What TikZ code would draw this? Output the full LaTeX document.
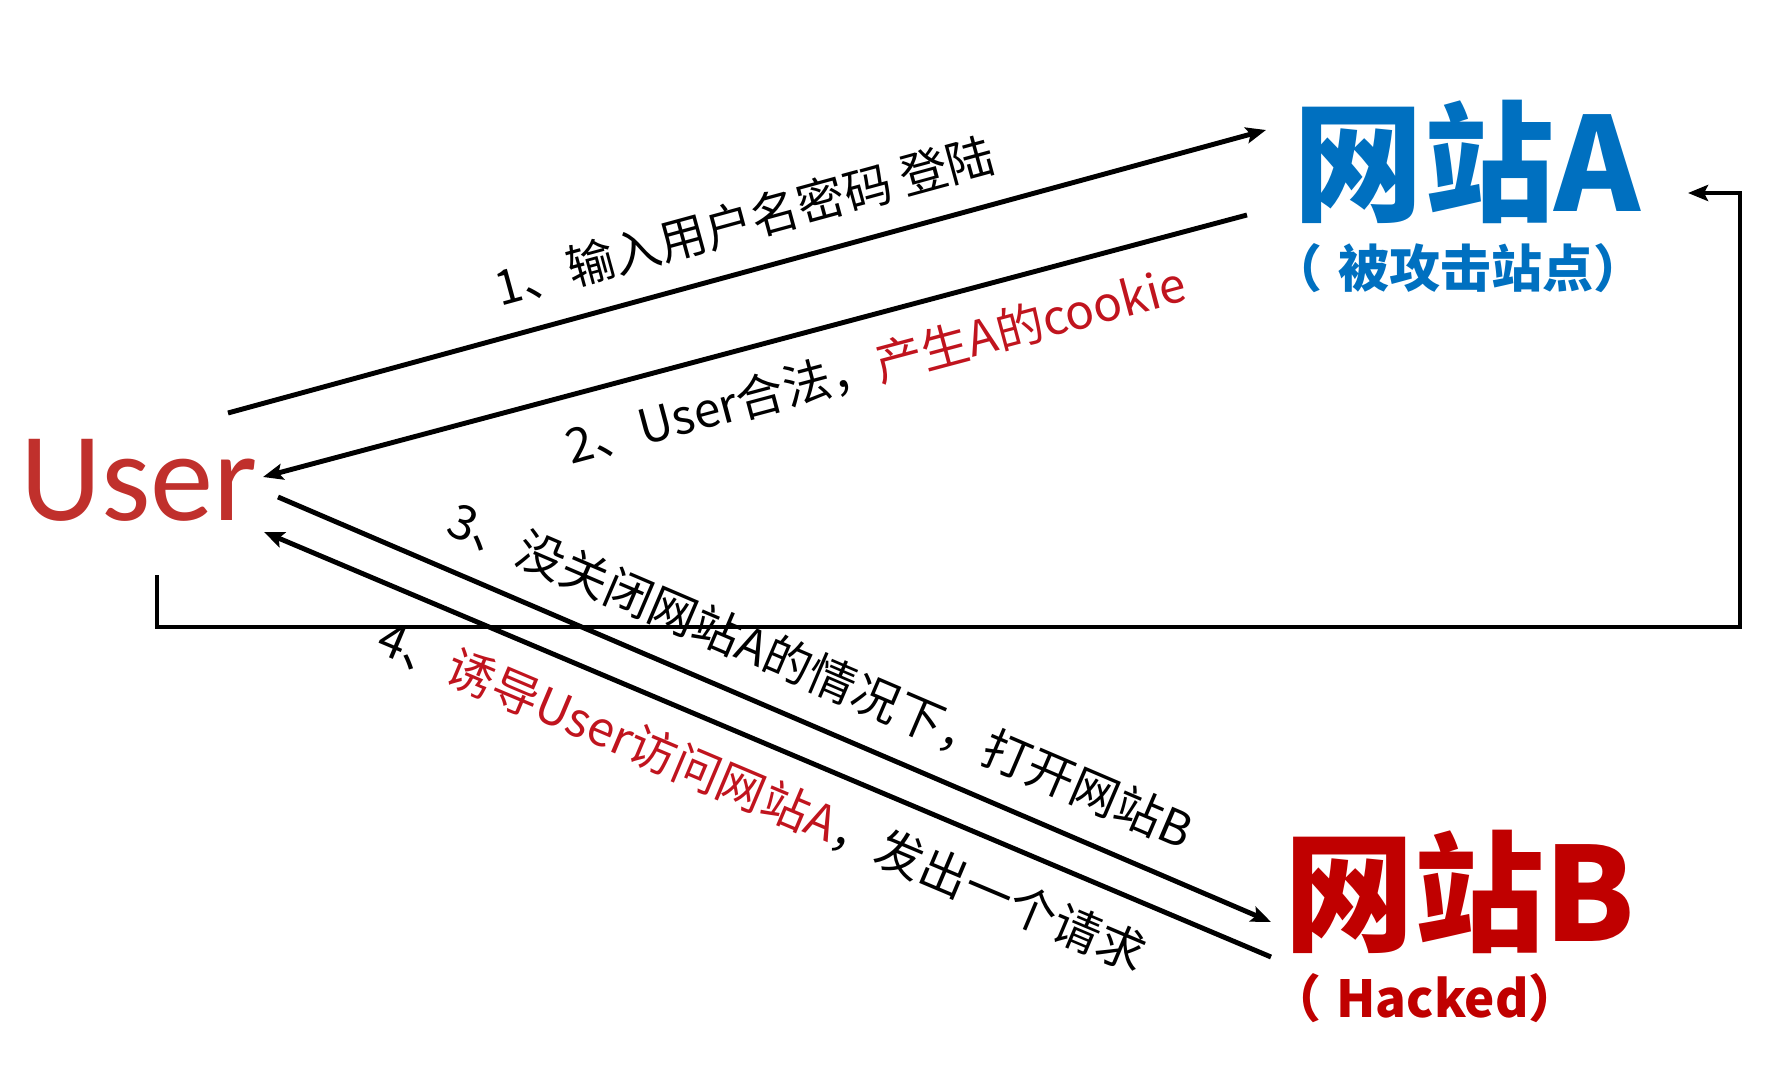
\documentclass[tikz,border=0pt]{standalone}
\usepackage{fontspec}
\usepackage{xcolor}
\setmainfont{Noto Sans CJK SC}
\newfontfamily\userfont{Carlito}
\usetikzlibrary{arrows.meta}
\definecolor{siteblue}{RGB}{0,112,192}
\definecolor{sitered}{RGB}{192,0,0}
\definecolor{userred}{RGB}{192,48,44}
\definecolor{textred}{RGB}{192,20,30}

\begin{document}
\begin{tikzpicture}[x=0.01cm,y=-0.01cm,line width=1.4pt,
		arr/.style={-{Stealth[length=0.2cm,width=0.16cm,inset=0.04cm]}},
		lab/.style={sloped,inner sep=0pt,font=\fontsize{13.6}{15}\selectfont},
		big/.style={inner sep=0pt,font=\fontsize{37}{40}\selectfont\bfseries},
		sub/.style={inner sep=0pt,font=\fontsize{14.5}{16}\selectfont\bfseries}]
		\useasboundingbox (0,0) rectangle (1778,1073);
		%\draw[color=gray!40,step=100] (0,0) grid (1778,1073);
		\node[text=userred,inner sep=0pt,font=\userfont\fontsize{36}{40}\selectfont] (user) at (139,480) {User};
		\node[big,text=siteblue] (siteA) at (1467,162) {网站A};
		\node[sub,text=siteblue] (subA) at (1458,268) {（\hspace{0.3em}被攻击站点）};
		\node[big,text=sitered] (siteB) at (1460,892) {网站B};
		\node[sub,text=sitered] (subB) at (1425,998) {（\hspace{0.3em}Hacked）};
		\coordinate (u1) at (228,413); \coordinate (a1) at (1266,130);
		\coordinate (a2) at (1247,215); \coordinate (u2) at (263,477);
		\coordinate (u3) at (278,497); \coordinate (b3) at (1271,922);
		\coordinate (b4) at (1271,957); \coordinate (u4) at (264,532);
		\coordinate (u5) at (157,575); \coordinate (c5) at (1740,627); \coordinate (a5) at (1688,193);
		\draw[arr] (u1) -- node[lab,above=7pt,pos=0.51] (lab1) {1、输入用户名密码 登陆} (a1);
		\draw[arr] (a2) -- node[lab,below=7pt,pos=0.39] (lab2) {2、User合法，\textcolor{textred}{产生A的cookie}} (u2);
		\draw[arr] (u3) -- node[lab,above=7pt,pos=0.527] (lab3) {3、没关闭网站A的情况下，打开网站B} (b3);
		\draw[arr] (b4) -- node[lab,below=7pt,pos=0.486] (lab4) {4、\textcolor{textred}{诱导User访问网站A}，发出一个请求} (u4);
		\draw[arr] (u5) |- (c5) |- (a5);
		\end{tikzpicture}
\end{document}
